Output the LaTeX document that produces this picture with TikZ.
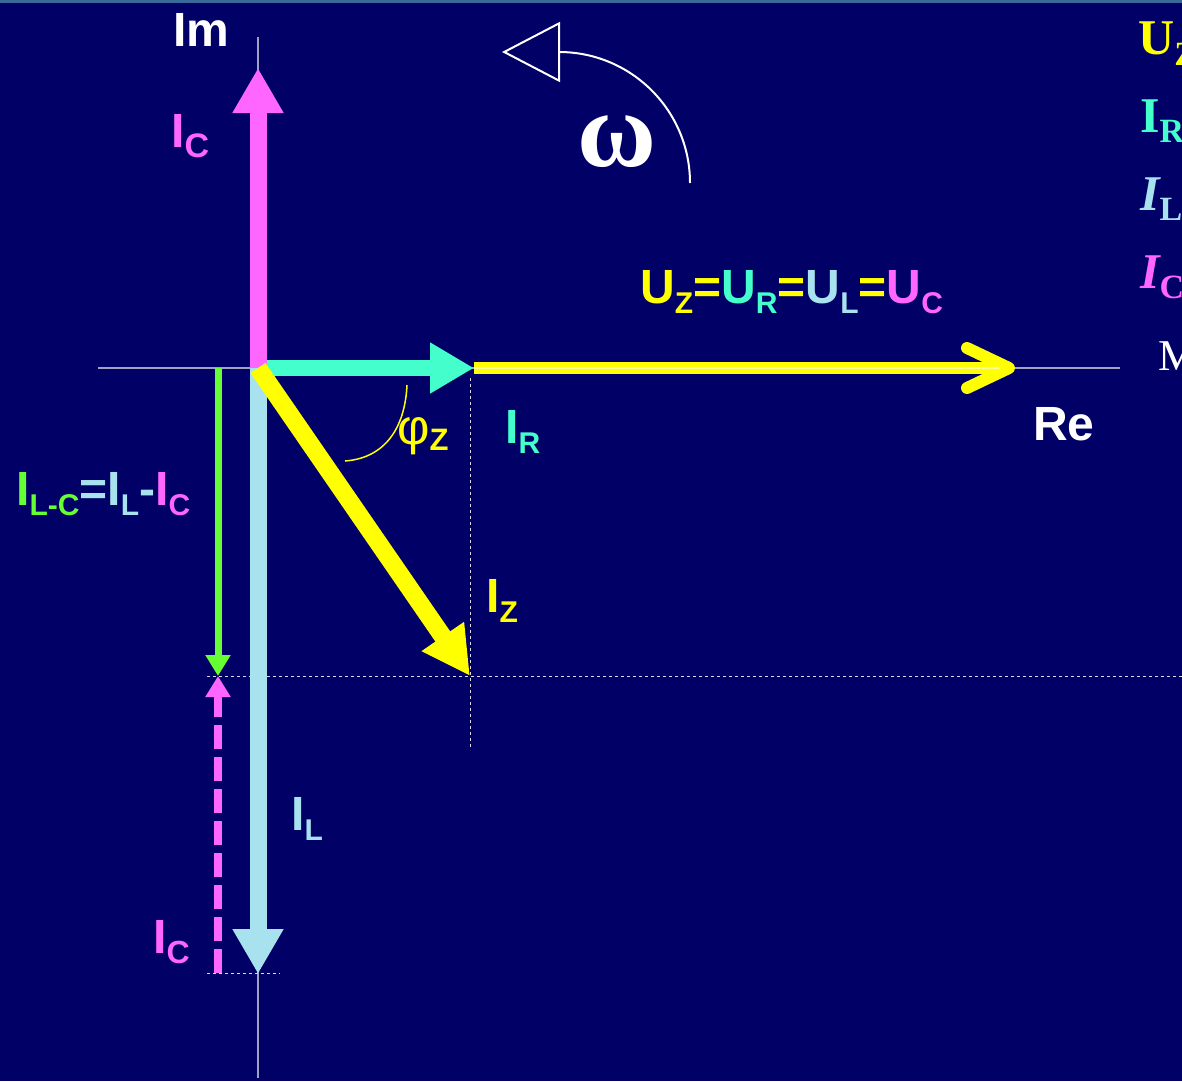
\documentclass[tikz,border=0pt]{standalone}
\usepackage{fontspec}
\setmainfont{Liberation Sans}
\newfontfamily\legendfont{Liberation Serif}
\usetikzlibrary{arrows.meta, positioning}
\definecolor{bgnavy}{HTML}{000066}
\definecolor{topband}{HTML}{3A6A9A}
\definecolor{cmag}{HTML}{FF66FF}
\definecolor{caqua}{HTML}{44FFCC}
\definecolor{cblue}{HTML}{A8E2EE}
\definecolor{cyel}{HTML}{FFFF00}
\definecolor{cgreen}{HTML}{66FF33}
\definecolor{caxis}{HTML}{A0A0C0}
\newcommand{\lsub}[2][30]{\raisebox{-10pt}{\fontsize{#1}{#1}\selectfont #2}}

\begin{document}
\begin{tikzpicture}[
      x=1pt, y=-1pt,
      axis/.style={caxis, line width=1.5pt},
      helper/.style={white!85!bgnavy, line width=1pt, dash pattern=on 3pt off 3pt},
      phasor/.style={line width=17pt, -{Triangle[length=45pt,width=48pt]}},
      slim/.style={line width=8pt, -{Triangle[length=21pt,width=24pt]}},
      lbl/.style={inner sep=0pt, anchor=base west, font=\fontsize{48}{48}\selectfont\bfseries},
      legend/.style={inner sep=0pt, anchor=base west, font=\legendfont\fontsize{50}{50}\selectfont\bfseries}
    ]
    \path[use as bounding box, fill=bgnavy] (0,0) rectangle (1182,1081);
    \clip (0,0) rectangle (1182,1081);
    \fill[topband] (0,0) rectangle (1182,3);

    % points of the diagram
    \coordinate (O) at (258,368);
    \coordinate (imtop) at (258,37);
    \coordinate (imbot) at (258,1078);
    \coordinate (releft) at (98,368);
    \coordinate (reright) at (1120,368);
    \coordinate (ICtip) at (258,68);
    \coordinate (IRtip) at (474,368);
    \coordinate (UZtip) at (1015,368);
    \coordinate (UZcore) at (1000,368);
    \coordinate (IZtip) at (470,676);
    \coordinate (ILtip) at (258,974);
    \coordinate (LCtop) at (218,368);
    \coordinate (LCtip) at (218,676);
    \coordinate (ICbot) at (218,973);
    \coordinate (dotleft) at (207,676);
    \coordinate (dotright) at (1182,676);
    \coordinate (dottop) at (470,378);
    \coordinate (dotbot) at (470,750);
    \coordinate (lowleft) at (207,973);
    \coordinate (lowright) at (280,973);
    \coordinate (omend) at (690,183);
    \coordinate (omtip) at (502,52);
    \coordinate (phiA) at (407,385);
    \coordinate (phiB) at (345,461);

    % axes and helper lines
    \draw [axis] (releft) -- (reright);
    \draw [axis] (imtop) -- (imbot);
    \draw [helper] (dotleft) -- (dotright);
    \draw [helper] (dottop) -- (dotbot);
    \draw [helper] (lowleft) -- (lowright);

    % phasors
    \draw [phasor, caqua, line width=16pt, -{Triangle[length=44pt,width=48pt]}] (O) -- (IRtip);
    \draw [cyel, line width=12pt, -{Straight Barb[length=42pt,width=40pt,round]}] (IRtip) -- (UZtip);
    \draw [white!60!cyel, line width=1.5pt] (IRtip) -- (UZcore);
    \draw [phasor, cblue] (O) -- (ILtip);
    \draw [phasor, cmag] (O) -- (ICtip);
    \draw [phasor, cyel, line width=18pt, -{Triangle[length=48pt,width=48pt]}] (O) -- (IZtip);
    \draw [slim, cgreen, line width=7pt] (LCtop) -- (LCtip);
    \draw [slim, cmag, dash pattern=on 24pt off 8pt] (ICbot) -- (LCtip);

    % rotation and angle
    \draw [white, line width=2pt, -{Triangle[open,length=58pt,width=60pt]}] (omend) arc[start angle=0, end angle=-90, radius=131] -- (omtip);
    \draw [cyel, line width=1.5pt] (phiA) .. controls (405,428) and (385,458) .. (phiB);

    % labels
    \node [lbl, white] (im) at (173,47) {Im};
    \node [lbl, white] (re) at (1033,440) {Re};
    \node [lbl] (icup) at (171,147) {\color{cmag}I\lsub[34]{C}};
    \node [lbl] (ueq) at (640,303) {\textcolor{cyel}{U\lsub{Z}=}\textcolor{caqua}{U\lsub{R}}\textcolor{cyel}{=}\textcolor{cblue}{U\lsub{L}}\textcolor{cyel}{=}\textcolor{cmag}{U\lsub{C}}};
    \node [lbl] (phiz) at (397,444) {\color{cyel}\mdseries\fontsize{50}{50}\selectfont φ\bfseries\raisebox{-6pt}{\fontsize{31}{31}\selectfont Z}};
    \node [lbl] (ir) at (505,443) {\color{caqua}I\lsub{R}};
    \node [lbl] (iz) at (486,612) {\color{cyel}I\lsub{Z}};
    \node [lbl] (ilc) at (16,505) {\textcolor{cgreen}{I\lsub{L-C}}\textcolor{cblue}{=I\lsub{L}-}\textcolor{cmag}{I\lsub{C}}};
    \node [lbl] (il) at (291,830) {\color{cblue}I\lsub{L}};
    \node [lbl] (icdown) at (153,953) {\color{cmag}I\lsub[32]{C}};
    \node [inner sep=0pt, anchor=base west, white, font=\legendfont\bfseries\fontsize{108}{108}\selectfont] (omega) at (577,166) {ω};

    % legend cut at the right edge
    \node [legend] (legUZ) at (1138,55) {\color{cyel}U\lsub[34]{Z}};
    \node [legend] (legIR) at (1140,132) {\color{caqua}I\lsub[34]{R}};
    \node [legend] (legIL) at (1140,210) {\color{cblue}\itshape I\upshape\lsub[34]{L}};
    \node [legend] (legIC) at (1140,288) {\color{cmag}\itshape I\upshape\lsub[34]{C}};
    \node [legend, white, font=\legendfont\fontsize{44}{44}\selectfont] (legM) at (1158,370) {M};
  \end{tikzpicture}
\end{document}
